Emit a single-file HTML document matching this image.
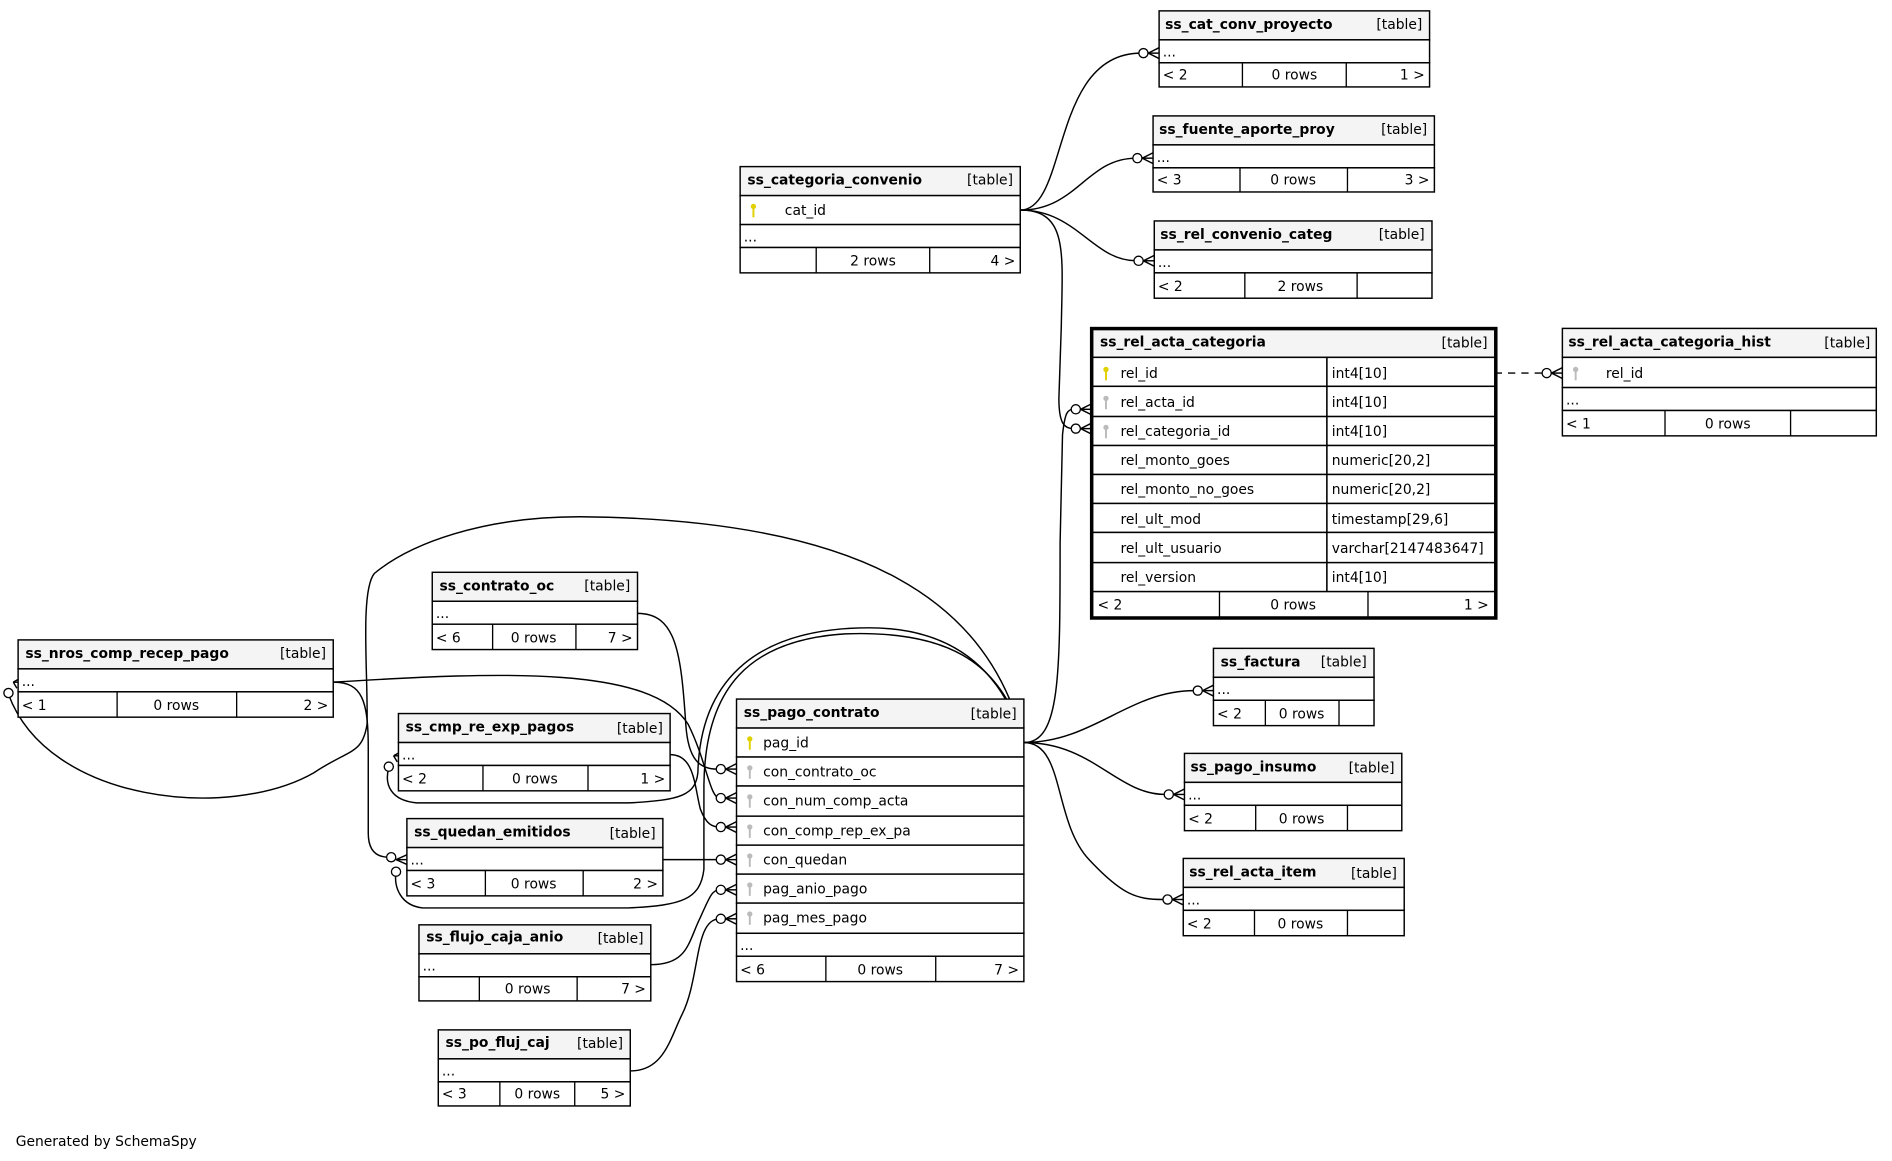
<!DOCTYPE html>
<html><head><meta charset="utf-8"><style>
html,body{margin:0;padding:0;background:#fff;}
svg{display:block;}
text{font-family:"DejaVu Sans","Liberation Sans",sans-serif;font-size:11.5px;fill:#000;}
.h{font-weight:bold;}
.box{fill:#fff;stroke:#000;stroke-width:1.2;}
.hd{fill:#f4f4f4;stroke:#000;stroke-width:1.2;}
.ln{fill:none;stroke:#000;stroke-width:1.1;}
.e{fill:none;stroke:#000;stroke-width:1.2;}
.c{fill:#fff;stroke:#000;stroke-width:1.1;}
</style></head><body>
<svg width="1892" height="1161" viewBox="0 0 1567 961.6" preserveAspectRatio="none" xmlns="http://www.w3.org/2000/svg">
<defs>
<g id="crow"><line x1="-9" y1="0" x2="0" y2="-4.5" class="e"/><line x1="-9" y1="0" x2="0" y2="0" class="e"/><line x1="-9" y1="0" x2="0" y2="4.5" class="e"/><circle cx="-13" cy="0" r="3.8" class="c"/></g>
<g id="key"><circle cx="0" cy="-3" r="2.2"/><rect x="-0.8" y="-1" width="1.6" height="7"/></g>
</defs>

<!-- edges -->
<path class="e" d="M845,174 C885,174 870,44 945,44"/>
<path class="e" d="M845,174 C892,174 900,131 941,131"/>
<path class="e" d="M845,174 C892,174 905,216 941,216"/>
<path class="e" d="M845,174 C885,174 880,210 879,270 L877,330 C877,350 881,355 889,355"/>
<path class="e" d="M848,615 C878,615 878,560 878,450 L880,360 C882,342 884,339 889,339"/>
<path class="e" d="M848,615 C905,615 935,572 989,572"/>
<path class="e" d="M848,615 C905,615 925,658 965,658"/>
<path class="e" d="M848,615 C882,615 872,680 902,712 C930,742 942,745 964,745"/>
<path class="e" d="M1238,309 L1278,309" stroke-dasharray="6,5"/>
<path class="e" d="M848,615 C820,500 720,430 480,428 C400,428 340,450 310,475 C298,490 305,560 304,600 C300,625 290,620 260,640 C190,680 40,665 7,575"/>
<path class="e" d="M848,615 C830,555 790,520 720,520 C630,520 580,560 578,640 C576,658 565,663 520,665 L345,665 C324,663 318,650 322,636"/>
<path class="e" d="M848,615 C830,545 780,522 700,525 C620,530 584,570 583,650 L583,720 C580,745 565,750 520,752 L350,752 C332,750 326,735 328,722"/>
<path class="e" d="M276,565 C300,565 305,580 305,620 L305,690 C305,705 312,710 322,710"/>
<path class="e" d="M276,565 C420,556 540,552 570,600 C585,630 588,661 596,661"/>
<path class="e" d="M528,508 C560,508 564,540 568,600 C570,630 580,637 594,637"/>
<path class="e" d="M555,625 C575,625 575,650 580,670 C585,683 590,685 596,685"/>
<path class="e" d="M549,712 L596,712"/>
<path class="e" d="M539,799 C570,799 570,780 580,760 C588,742 590,737 596,737"/>
<path class="e" d="M522,887 C550,887 555,860 565,840 C580,810 575,761 596,761"/>

<use href="#crow" x="960" y="44"/>
<use href="#crow" x="955" y="131"/>
<use href="#crow" x="956" y="216"/>
<use href="#crow" x="904" y="339"/>
<use href="#crow" x="904" y="355"/>
<use href="#crow" x="1005" y="572"/>
<use href="#crow" x="981" y="658"/>
<use href="#crow" x="980" y="745"/>
<use href="#crow" x="1294" y="309"/>
<use href="#crow" x="610" y="637"/>
<use href="#crow" x="610" y="661"/>
<use href="#crow" x="610" y="685"/>
<use href="#crow" x="610" y="712"/>
<use href="#crow" x="610" y="737"/>
<use href="#crow" x="610" y="761"/>
<g transform="translate(20,565)"><line x1="-9" y1="0" x2="-2" y2="-4" class="e"/><line x1="-9" y1="0" x2="0" y2="0" class="e"/><line x1="-9" y1="0" x2="-6" y2="5" class="e"/><circle cx="-13" cy="9" r="3.8" class="c"/></g>
<g transform="translate(335,626)"><line x1="-9" y1="0" x2="-2" y2="-4" class="e"/><line x1="-9" y1="0" x2="0" y2="0" class="e"/><line x1="-9" y1="0" x2="-6" y2="5" class="e"/><circle cx="-13" cy="9" r="3.8" class="c"/></g>
<g transform="translate(337,712)"><line x1="-9" y1="0" x2="0" y2="-4" class="e"/><line x1="-9" y1="0" x2="0" y2="0" class="e"/><line x1="-9" y1="0" x2="0" y2="4" class="e"/><circle cx="-13" cy="-2" r="3.8" class="c"/><circle cx="-9" cy="10" r="3.8" class="c"/></g>

<!-- ss_cat_conv_proyecto -->
<rect class="hd" x="960" y="9" width="224" height="24"/><rect class="box" x="960" y="33" width="224" height="19"/><rect class="box" x="960" y="52" width="224" height="20"/>
<line class="ln" x1="1029" y1="52" x2="1029" y2="72"/><line class="ln" x1="1115" y1="52" x2="1115" y2="72"/>
<text class="h" x="965" y="24">ss_cat_conv_proyecto</text><text x="1178" y="24" text-anchor="end">[table]</text>
<text x="963" y="47">...</text><text x="963" y="66">&lt; 2</text><text x="1072" y="66" text-anchor="middle">0 rows</text><text x="1180" y="66" text-anchor="end">1 &gt;</text>

<!-- ss_fuente_aporte_proy -->
<rect class="hd" x="955" y="96" width="233" height="24"/><rect class="box" x="955" y="120" width="233" height="19"/><rect class="box" x="955" y="139" width="233" height="20"/>
<line class="ln" x1="1027" y1="139" x2="1027" y2="159"/><line class="ln" x1="1116" y1="139" x2="1116" y2="159"/>
<text class="h" x="960" y="111">ss_fuente_aporte_proy</text><text x="1182" y="111" text-anchor="end">[table]</text>
<text x="958" y="134">...</text><text x="958" y="153">&lt; 3</text><text x="1071" y="153" text-anchor="middle">0 rows</text><text x="1184" y="153" text-anchor="end">3 &gt;</text>

<!-- ss_rel_convenio_categ -->
<rect class="hd" x="956" y="183" width="230" height="24"/><rect class="box" x="956" y="207" width="230" height="19"/><rect class="box" x="956" y="226" width="230" height="21"/>
<line class="ln" x1="1031" y1="226" x2="1031" y2="247"/><line class="ln" x1="1124" y1="226" x2="1124" y2="247"/>
<text class="h" x="961" y="198">ss_rel_convenio_categ</text><text x="1180" y="198" text-anchor="end">[table]</text>
<text x="959" y="221">...</text><text x="959" y="241">&lt; 2</text><text x="1077" y="241" text-anchor="middle">2 rows</text>

<!-- ss_categoria_convenio -->
<rect class="hd" x="613" y="138" width="232" height="24"/><rect class="box" x="613" y="162" width="232" height="24"/><rect class="box" x="613" y="186" width="232" height="19"/><rect class="box" x="613" y="205" width="232" height="21"/>
<line class="ln" x1="676" y1="205" x2="676" y2="226"/><line class="ln" x1="770" y1="205" x2="770" y2="226"/>
<text class="h" x="619" y="153">ss_categoria_convenio</text><text x="839" y="153" text-anchor="end">[table]</text>
<use href="#key" x="624" y="174" fill="#e0d000"/><text x="650" y="178">cat_id</text>
<text x="616" y="200">...</text><text x="723" y="220" text-anchor="middle">2 rows</text><text x="841" y="220" text-anchor="end">4 &gt;</text>

<!-- ss_rel_acta_categoria -->
<rect class="hd" x="905" y="273" width="333" height="23"/>
<g fill="#fff" stroke="#000" stroke-width="1.2">
<rect x="905" y="296" width="194" height="24"/><rect x="1099" y="296" width="139" height="24"/>
<rect x="905" y="320" width="194" height="25"/><rect x="1099" y="320" width="139" height="25"/>
<rect x="905" y="345" width="194" height="24"/><rect x="1099" y="345" width="139" height="24"/>
<rect x="905" y="369" width="194" height="24"/><rect x="1099" y="369" width="139" height="24"/>
<rect x="905" y="393" width="194" height="24"/><rect x="1099" y="393" width="139" height="24"/>
<rect x="905" y="417" width="194" height="24"/><rect x="1099" y="417" width="139" height="24"/>
<rect x="905" y="441" width="194" height="25"/><rect x="1099" y="441" width="139" height="25"/>
<rect x="905" y="466" width="194" height="24"/><rect x="1099" y="466" width="139" height="24"/>
<rect x="905" y="490" width="333" height="21"/>
</g>
<line class="ln" x1="1010" y1="490" x2="1010" y2="511"/><line class="ln" x1="1133" y1="490" x2="1133" y2="511"/>
<rect x="904" y="272" width="335" height="240" fill="none" stroke="#000" stroke-width="2.6"/>
<text class="h" x="911" y="287">ss_rel_acta_categoria</text><text x="1232" y="288" text-anchor="end">[table]</text>
<use href="#key" x="916" y="309" fill="#e0d000"/><text x="928" y="313">rel_id</text><text x="1103" y="313">int4[10]</text>
<use href="#key" x="916" y="333" fill="#bbb"/><text x="928" y="337">rel_acta_id</text><text x="1103" y="337">int4[10]</text>
<use href="#key" x="916" y="357" fill="#bbb"/><text x="928" y="361">rel_categoria_id</text><text x="1103" y="361">int4[10]</text>
<text x="928" y="385">rel_monto_goes</text><text x="1103" y="385">numeric[20,2]</text>
<text x="928" y="409">rel_monto_no_goes</text><text x="1103" y="409">numeric[20,2]</text>
<text x="928" y="434">rel_ult_mod</text><text x="1103" y="434">timestamp[29,6]</text>
<text x="928" y="458">rel_ult_usuario</text><text x="1103" y="458">varchar[2147483647]</text>
<text x="928" y="482">rel_version</text><text x="1103" y="482">int4[10]</text>
<text x="909" y="505">&lt; 2</text><text x="1071" y="505" text-anchor="middle">0 rows</text><text x="1233" y="505" text-anchor="end">1 &gt;</text>

<!-- ss_rel_acta_categoria_hist -->
<rect class="hd" x="1294" y="272" width="260" height="24"/><rect class="box" x="1294" y="296" width="260" height="25"/><rect class="box" x="1294" y="321" width="260" height="19"/><rect class="box" x="1294" y="340" width="260" height="21"/>
<line class="ln" x1="1379" y1="340" x2="1379" y2="361"/><line class="ln" x1="1483" y1="340" x2="1483" y2="361"/>
<text class="h" x="1299" y="287">ss_rel_acta_categoria_hist</text><text x="1549" y="288" text-anchor="end">[table]</text>
<use href="#key" x="1305" y="309" fill="#bbb"/><text x="1330" y="313">rel_id</text>
<text x="1297" y="335">...</text><text x="1297" y="355">&lt; 1</text><text x="1431" y="355" text-anchor="middle">0 rows</text>

<!-- ss_contrato_oc -->
<rect class="hd" x="358" y="474" width="170" height="24"/><rect class="box" x="358" y="498" width="170" height="19"/><rect class="box" x="358" y="517" width="170" height="21"/>
<line class="ln" x1="408" y1="517" x2="408" y2="538"/><line class="ln" x1="477" y1="517" x2="477" y2="538"/>
<text class="h" x="364" y="489">ss_contrato_oc</text><text x="522" y="489" text-anchor="end">[table]</text>
<text x="361" y="512">...</text><text x="361" y="532">&lt; 6</text><text x="442" y="532" text-anchor="middle">0 rows</text><text x="524" y="532" text-anchor="end">7 &gt;</text>

<!-- ss_nros_comp_recep_pago -->
<rect class="hd" x="15" y="530" width="261" height="24"/><rect class="box" x="15" y="554" width="261" height="19"/><rect class="box" x="15" y="573" width="261" height="21"/>
<line class="ln" x1="97" y1="573" x2="97" y2="594"/><line class="ln" x1="196" y1="573" x2="196" y2="594"/>
<text class="h" x="21" y="545">ss_nros_comp_recep_pago</text><text x="270" y="545" text-anchor="end">[table]</text>
<text x="18" y="568">...</text><text x="18" y="588">&lt; 1</text><text x="146" y="588" text-anchor="middle">0 rows</text><text x="272" y="588" text-anchor="end">2 &gt;</text>

<!-- ss_cmp_re_exp_pagos -->
<rect class="hd" x="330" y="591" width="225" height="24"/><rect class="box" x="330" y="615" width="225" height="19"/><rect class="box" x="330" y="634" width="225" height="21"/>
<line class="ln" x1="400" y1="634" x2="400" y2="655"/><line class="ln" x1="487" y1="634" x2="487" y2="655"/>
<text class="h" x="336" y="606">ss_cmp_re_exp_pagos</text><text x="549" y="607" text-anchor="end">[table]</text>
<text x="333" y="629">...</text><text x="333" y="649">&lt; 2</text><text x="443" y="649" text-anchor="middle">0 rows</text><text x="551" y="649" text-anchor="end">1 &gt;</text>

<!-- ss_quedan_emitidos -->
<rect class="hd" x="337" y="678" width="212" height="24"/><rect class="box" x="337" y="702" width="212" height="19"/><rect class="box" x="337" y="721" width="212" height="21"/>
<line class="ln" x1="402" y1="721" x2="402" y2="742"/><line class="ln" x1="483" y1="721" x2="483" y2="742"/>
<text class="h" x="343" y="693">ss_quedan_emitidos</text><text x="543" y="694" text-anchor="end">[table]</text>
<text x="340" y="716">...</text><text x="340" y="736">&lt; 3</text><text x="442" y="736" text-anchor="middle">0 rows</text><text x="545" y="736" text-anchor="end">2 &gt;</text>

<!-- ss_flujo_caja_anio -->
<rect class="hd" x="347" y="766" width="192" height="24"/><rect class="box" x="347" y="790" width="192" height="19"/><rect class="box" x="347" y="809" width="192" height="20"/>
<line class="ln" x1="397" y1="809" x2="397" y2="829"/><line class="ln" x1="478" y1="809" x2="478" y2="829"/>
<text class="h" x="353" y="780">ss_flujo_caja_anio</text><text x="533" y="781" text-anchor="end">[table]</text>
<text x="350" y="804">...</text><text x="437" y="823" text-anchor="middle">0 rows</text><text x="535" y="823" text-anchor="end">7 &gt;</text>

<!-- ss_po_fluj_caj -->
<rect class="hd" x="363" y="853" width="159" height="24"/><rect class="box" x="363" y="877" width="159" height="19"/><rect class="box" x="363" y="896" width="159" height="20"/>
<line class="ln" x1="414" y1="896" x2="414" y2="916"/><line class="ln" x1="476" y1="896" x2="476" y2="916"/>
<text class="h" x="369" y="867">ss_po_fluj_caj</text><text x="516" y="868" text-anchor="end">[table]</text>
<text x="366" y="891">...</text><text x="366" y="910">&lt; 3</text><text x="445" y="910" text-anchor="middle">0 rows</text><text x="518" y="910" text-anchor="end">5 &gt;</text>

<!-- ss_pago_contrato -->
<rect class="hd" x="610" y="579" width="238" height="24"/>
<g fill="#fff" stroke="#000" stroke-width="1.2">
<rect x="610" y="603" width="238" height="24"/><rect x="610" y="627" width="238" height="24"/><rect x="610" y="651" width="238" height="25"/><rect x="610" y="676" width="238" height="24"/><rect x="610" y="700" width="238" height="24"/><rect x="610" y="724" width="238" height="24"/><rect x="610" y="748" width="238" height="25"/><rect x="610" y="773" width="238" height="19"/><rect x="610" y="792" width="238" height="21"/>
</g>
<line class="ln" x1="684" y1="792" x2="684" y2="813"/><line class="ln" x1="775" y1="792" x2="775" y2="813"/>
<text class="h" x="616" y="594">ss_pago_contrato</text><text x="842" y="595" text-anchor="end">[table]</text>
<use href="#key" x="621" y="615" fill="#e0d000"/><text x="632" y="619">pag_id</text>
<use href="#key" x="621" y="639" fill="#bbb"/><text x="632" y="643">con_contrato_oc</text>
<use href="#key" x="621" y="663" fill="#bbb"/><text x="632" y="667">con_num_comp_acta</text>
<use href="#key" x="621" y="688" fill="#bbb"/><text x="632" y="692">con_comp_rep_ex_pa</text>
<use href="#key" x="621" y="712" fill="#bbb"/><text x="632" y="716">con_quedan</text>
<use href="#key" x="621" y="736" fill="#bbb"/><text x="632" y="740">pag_anio_pago</text>
<use href="#key" x="621" y="760" fill="#bbb"/><text x="632" y="764">pag_mes_pago</text>
<text x="613" y="787">...</text><text x="613" y="807">&lt; 6</text><text x="729" y="807" text-anchor="middle">0 rows</text><text x="844" y="807" text-anchor="end">7 &gt;</text>

<!-- ss_factura -->
<rect class="hd" x="1005" y="537" width="133" height="24"/><rect class="box" x="1005" y="561" width="133" height="19"/><rect class="box" x="1005" y="580" width="133" height="21"/>
<line class="ln" x1="1048" y1="580" x2="1048" y2="601"/><line class="ln" x1="1109" y1="580" x2="1109" y2="601"/>
<text class="h" x="1011" y="552">ss_factura</text><text x="1132" y="552" text-anchor="end">[table]</text>
<text x="1008" y="575">...</text><text x="1008" y="595">&lt; 2</text><text x="1078" y="595" text-anchor="middle">0 rows</text>

<!-- ss_pago_insumo -->
<rect class="hd" x="981" y="624" width="180" height="24"/><rect class="box" x="981" y="648" width="180" height="19"/><rect class="box" x="981" y="667" width="180" height="21"/>
<line class="ln" x1="1040" y1="667" x2="1040" y2="688"/><line class="ln" x1="1116" y1="667" x2="1116" y2="688"/>
<text class="h" x="986" y="639">ss_pago_insumo</text><text x="1155" y="640" text-anchor="end">[table]</text>
<text x="984" y="662">...</text><text x="984" y="682">&lt; 2</text><text x="1078" y="682" text-anchor="middle">0 rows</text>

<!-- ss_rel_acta_item -->
<rect class="hd" x="980" y="711" width="183" height="24"/><rect class="box" x="980" y="735" width="183" height="19"/><rect class="box" x="980" y="754" width="183" height="21"/>
<line class="ln" x1="1039" y1="754" x2="1039" y2="775"/><line class="ln" x1="1116" y1="754" x2="1116" y2="775"/>
<text class="h" x="985" y="726">ss_rel_acta_item</text><text x="1157" y="727" text-anchor="end">[table]</text>
<text x="983" y="749">...</text><text x="983" y="769">&lt; 2</text><text x="1077" y="769" text-anchor="middle">0 rows</text>

<text x="13" y="949">Generated by SchemaSpy</text>
</svg>
</body></html>
